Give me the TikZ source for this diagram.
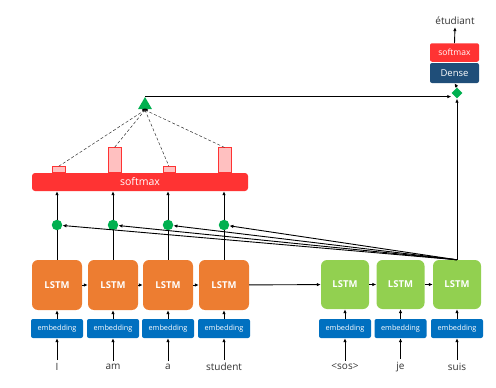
\documentclass[tikz,border=0pt]{standalone}
\usepackage{fontspec}
\setmainfont{Open Sans}
\usetikzlibrary{shapes.geometric, arrows.meta}
\definecolor{lorange}{HTML}{ED7D31}
\definecolor{lgreen}{HTML}{92D050}
\definecolor{embblue}{HTML}{0070C0}
\definecolor{dotgreen}{HTML}{00B050}
\definecolor{smred}{HTML}{FF3333}
\definecolor{barpink}{HTML}{FFC0C0}
\definecolor{denseblue}{HTML}{1F4E79}
\definecolor{wordgray}{HTML}{333333}
\begin{document}
\begin{tikzpicture}[x=1pt,y=-1pt,
  enc/.style={rounded corners=6pt, fill=lorange, minimum width=50pt, minimum height=50pt, text=white, font=\bfseries\fontsize{9.5}{11}\selectfont, inner sep=0pt},
  dec/.style={rounded corners=6pt, fill=lgreen, minimum width=48pt, minimum height=49pt, text=white, font=\bfseries\fontsize{9.5}{11}\selectfont, inner sep=0pt},
  emb/.style={rounded corners=2pt, fill=embblue, minimum width=52pt, minimum height=19pt, text=white, font=\fontsize{7.3}{8}\selectfont, inner sep=0pt},
  word/.style={font=\fontsize{10}{11}\selectfont, text=wordgray, inner sep=3pt},
  att/.style={circle, fill=dotgreen, minimum size=10.5pt, inner sep=0pt},
  bar/.style={draw=smred, fill=barpink, line width=0.6pt, anchor=south, inner sep=0pt},
  arr/.style={-{Latex[length=4pt,width=3.5pt]}, line width=0.9pt, black},
  ln/.style={line width=0.9pt, black}
]
\useasboundingbox (0,0) rectangle (496,388);

% encoder
\foreach \i/\x/\w in {1/57/I,2/113/am,3/168/a,4/224/student}{
  \node[enc] (l\i) at (\x,285) {LSTM};
  \node[emb] (e\i) at (\x,328.5) {embedding};
  \node[word] (w\i) at (\x,367) {\w};
  \node[att] (c\i) at (\x,225) {};
}
% decoder
\foreach \i/\x/\w in {1/345/{<sos>},2/400.5/je,3/457/suis}{
  \node[dec] (d\i) at (\x,284.5) {LSTM};
  \node[emb] (f\i) at (\x,328.5) {embedding};
  \node[word] (v\i) at (\x,367) {\w};
}

% softmax bar
\node[rounded corners=3pt, fill=smred, minimum width=216pt, minimum height=18pt, text=white, font=\fontsize{10.5}{12}\selectfont, inner sep=0pt] (sm) at (140,182) {softmax};

% attention bars
\node[bar, minimum width=13pt, minimum height=6pt] (b1) at (58.5,173) {};
\node[bar, minimum width=13pt, minimum height=25pt] (b2) at (114.5,173) {};
\node[bar, minimum width=12pt, minimum height=6pt] (b3) at (169,173) {};
\node[bar, minimum width=13pt, minimum height=25pt] (b4) at (224.5,173) {};

% triangle
\node[regular polygon, regular polygon sides=3, fill=dotgreen, minimum size=16pt, inner sep=0pt] (tri) at (145,105) {};
\coordinate (hub) at (145,110);
\fill[black] (hub) ellipse (3pt and 1.5pt);
\foreach \i in {1,...,4}{
  \draw[densely dashed, line width=0.5pt, black!80] (hub) -- (b\i.north);
}

% output side
\node[diamond, fill=dotgreen, minimum size=11pt, inner sep=0pt] (dia) at (457,93) {};
\node[rounded corners=2pt, fill=denseblue, minimum width=49pt, minimum height=20pt, text=white, font=\fontsize{9.5}{11}\selectfont, inner sep=0pt] (dense) at (454.5,73) {Dense};
\node[rounded corners=2pt, fill=smred, minimum width=49pt, minimum height=18.5pt, text=white, font=\fontsize{8.5}{10}\selectfont, inner sep=0pt] (osm) at (454.5,52.5) {softmax};
\node[word, inner sep=2pt] (out) at (455,21) {étudiant};

% connectors
\foreach \i in {1,...,4}{
  \draw[arr] (w\i.north) -- (e\i.south);
  \draw[arr] (e\i.north) -- (l\i.south);
  \draw[ln] (l\i.north) -- (c\i);
  \draw[arr] (c\i) -- (c\i |- sm.south);
  \draw[arr] (d3.north) -- (c\i);
}
\foreach \i in {1,...,3}{
  \draw[arr] (v\i.north) -- (f\i.south);
  \draw[arr] (f\i.north) -- (d\i.south);
}
\draw[arr] (l1) -- (l2);
\draw[arr] (l2) -- (l3);
\draw[arr] (l3) -- (l4);
\draw[arr] (l4) -- (d1);
\draw[arr] (d1) -- (d2);
\draw[arr] (d2) -- (d3);
\draw[arr] (d3.north) -- (dia.south);
\draw[arr] (dia.north) -- (dense.south);
\draw[arr] (osm.north) -- (out.south);
\draw[arr] (tri.north) -- (tri.north -| dia.west);
\end{tikzpicture}
\end{document}
